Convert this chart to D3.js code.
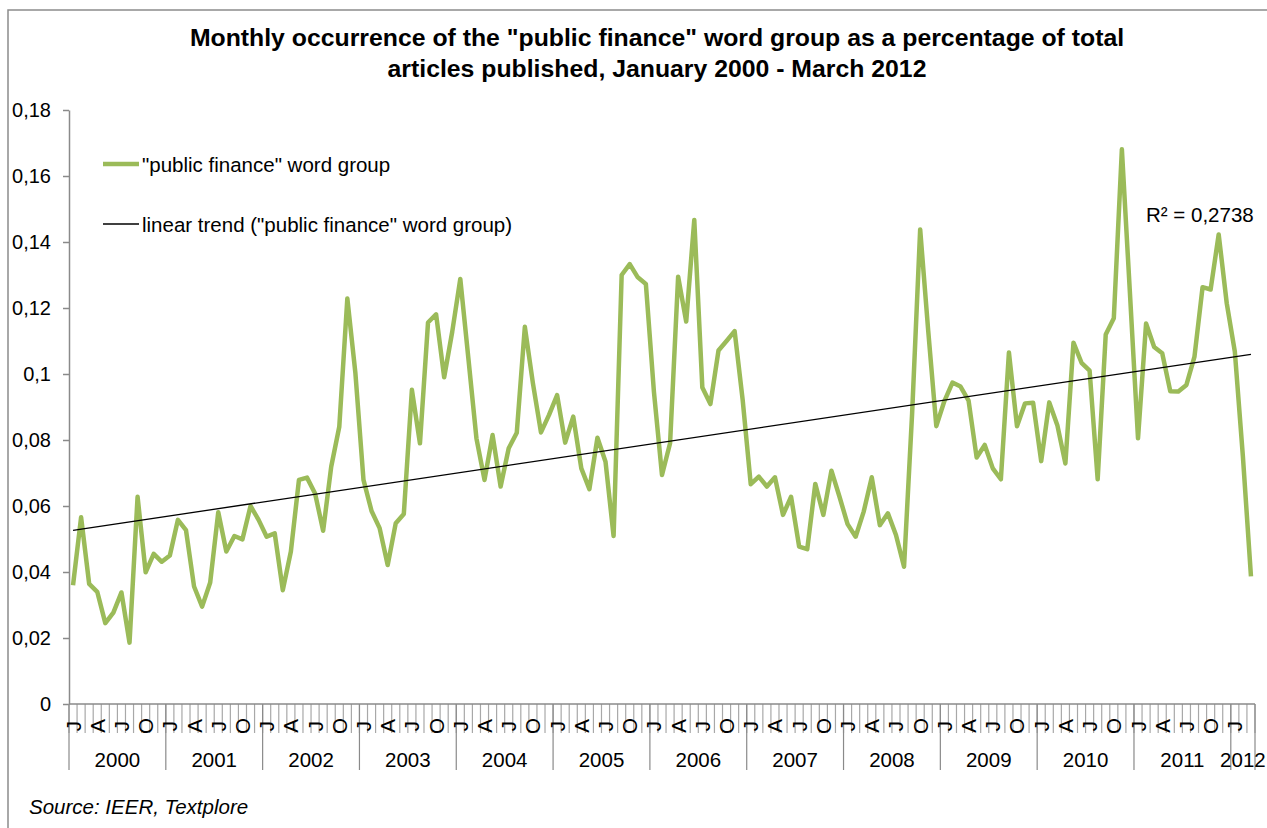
<!DOCTYPE html>
<html>
<head>
<meta charset="utf-8">
<script src="https://cdn.jsdelivr.net/npm/d3@7"></script>
<style>
  html, body { margin: 0; padding: 0; background: #fff; }
  svg { display: block; font-family: "Liberation Sans", Arial, sans-serif; }
</style>
</head>
<body>
<svg id="chart" width="1267" height="828"></svg>
<script>
// Monthly share of articles mentioning the "public finance" word group, Jan 2000 - Mar 2012
const years = ["2000", "2001", "2002", "2003", "2004", "2005", "2006", "2007", "2008", "2009", "2010", "2011", "2012"];
const monthLetters = ["J", "F", "M", "A", "M", "J", "J", "A", "S", "O", "N", "D"];
const share = [
  // 2000
  0.0360, 0.0566, 0.0364, 0.0340, 0.0245, 0.0277, 0.0338, 0.0186, 0.0628, 0.0399, 0.0455, 0.0431,
  // 2001
  0.0450, 0.0558, 0.0527, 0.0356, 0.0295, 0.0368, 0.0581, 0.0462, 0.0509, 0.0499, 0.0600, 0.0558,
  // 2002
  0.0507, 0.0517, 0.0345, 0.0462, 0.0679, 0.0686, 0.0638, 0.0525, 0.0719, 0.0840, 0.1229, 0.1002,
  // 2003
  0.0679, 0.0585, 0.0533, 0.0421, 0.0548, 0.0576, 0.0952, 0.0790, 0.1156, 0.1181, 0.0990, 0.1128,
  // 2004
  0.1288, 0.1048, 0.0805, 0.0679, 0.0815, 0.0659, 0.0775, 0.0822, 0.1143, 0.0972, 0.0823, 0.0876,
  // 2005
  0.0936, 0.0792, 0.0871, 0.0714, 0.0651, 0.0807, 0.0734, 0.0509, 0.1300, 0.1333, 0.1293, 0.1273,
  // 2006
  0.0946, 0.0694, 0.0790, 0.1295, 0.1159, 0.1467, 0.0959, 0.0909, 0.1071, 0.1100, 0.1130, 0.0921,
  // 2007
  0.0666, 0.0689, 0.0659, 0.0687, 0.0573, 0.0628, 0.0477, 0.0469, 0.0667, 0.0573, 0.0707, 0.0628,
  // 2008
  0.0545, 0.0507, 0.0583, 0.0687, 0.0542, 0.0578, 0.0512, 0.0416, 0.0880, 0.1438, 0.1130, 0.0842,
  // 2009
  0.0918, 0.0974, 0.0962, 0.0919, 0.0747, 0.0785, 0.0714, 0.0681, 0.1065, 0.0842, 0.0911, 0.0913,
  // 2010
  0.0736, 0.0914, 0.0845, 0.0729, 0.1095, 0.1034, 0.1010, 0.0681, 0.1120, 0.1169, 0.1681, 0.1244,
  // 2011
  0.0805, 0.1153, 0.1082, 0.1063, 0.0948, 0.0947, 0.0967, 0.1053, 0.1263, 0.1256, 0.1423, 0.1214,
  // 2012
  0.1068, 0.0750, 0.0387
];
const yTicks = [0, 0.02, 0.04, 0.06, 0.08, 0.10, 0.12, 0.14, 0.16, 0.18];
const yTickLabels = ["0", "0,02", "0,04", "0,06", "0,08", "0,1", "0,12", "0,14", "0,16", "0,18"];
const titleLines = [
  "Monthly occurrence of the \"public finance\" word group as a percentage of total",
  "articles published, January 2000 - March 2012"
];
const seriesName = "\"public finance\" word group";
const trendName = "linear trend (\"public finance\" word group)";
const rSquaredText = "R² = 0,2738";
const sourceText = "Source: IEER, Textplore";

const svg = d3.select("#chart");
const axisGrey = "#8a8a8a";
const green = "#9bbb59";
const fontSize = 20.5;

// frame around the chart
svg.append("rect")
  .attr("x", 8).attr("y", 10).attr("width", 1400).attr("height", 1000)
  .attr("fill", "none").attr("stroke", "#8c8c8c").attr("stroke-width", 1.5);

// scales
const idx = d3.range(share.length);
const x = d3.scaleBand().domain(idx).range([69, 1255]).padding(0);
const y = d3.scaleLinear().domain([0, 0.18]).range([704, 110]);
const cx = i => x(i) + x.bandwidth() / 2;

// title
svg.append("g").selectAll("text").data(titleLines).join("text")
  .attr("x", 657).attr("y", (d, i) => 46 + i * 31)
  .attr("text-anchor", "middle")
  .attr("font-weight", "bold").attr("font-size", 24.8)
  .attr("fill", "#000")
  .text(d => d);

// y axis
const yAxis = svg.append("g").attr("transform", "translate(69,0)")
  .call(d3.axisLeft(y).tickValues(yTicks).tickSize(6).tickSizeOuter(0)
    .tickFormat((d, i) => yTickLabels[i]).tickPadding(12));
yAxis.select(".domain").attr("stroke", axisGrey).attr("stroke-width", 1.5);
yAxis.selectAll(".tick line").attr("stroke", axisGrey).attr("stroke-width", 1.5);
yAxis.selectAll(".tick text").attr("font-size", 20).attr("fill", "#000")
  .attr("font-family", "Liberation Sans, Arial, sans-serif");

// x axis: month tick marks at every category boundary
const xAxisG = svg.append("g");
const boundaries = d3.range(share.length + 1);
const edge = i => (i < share.length ? x(i) : x(share.length - 1) + x.bandwidth());
xAxisG.selectAll("line.month").data(boundaries).join("line")
  .attr("class", "month")
  .attr("x1", edge).attr("x2", edge)
  .attr("y1", y(0)).attr("y2", 733)
  .attr("stroke", "#a8a8a8").attr("stroke-width", 1.2);

// year separators
const yearStarts = years.map((yr, k) => k * 12);
const yearEdges = yearStarts.concat([share.length]);
xAxisG.selectAll("line.year").data(yearEdges).join("line")
  .attr("class", "year")
  .attr("x1", edge).attr("x2", edge)
  .attr("y1", y(0)).attr("y2", 770)
  .attr("stroke", axisGrey).attr("stroke-width", 1.2);

// axis line
xAxisG.append("line")
  .attr("x1", 69).attr("x2", edge(share.length))
  .attr("y1", y(0)).attr("y2", y(0))
  .attr("stroke", axisGrey).attr("stroke-width", 1.5);

// quarter month letters (J, A, J, O), rotated
const letterIdx = idx.filter(i => i % 3 === 0);
xAxisG.selectAll("text.m").data(letterIdx).join("text")
  .attr("class", "m")
  .attr("transform", i => `translate(${cx(i)},726) rotate(-90)`)
  .attr("text-anchor", "middle").attr("dominant-baseline", "central")
  .attr("font-size", fontSize).attr("fill", "#000")
  .text(i => monthLetters[i % 12]);

// year labels, centred on their months
xAxisG.selectAll("text.yr").data(years).join("text")
  .attr("class", "yr")
  .attr("x", (yr, k) => {
    const a = edge(k * 12);
    const b = edge(Math.min((k + 1) * 12, share.length));
    return (a + b) / 2;
  })
  .attr("y", 767)
  .attr("text-anchor", "middle")
  .attr("font-size", fontSize).attr("fill", "#000")
  .text(d => d);

// least-squares trend over the monthly series
const n = share.length;
const mx = d3.mean(idx), my = d3.mean(share);
const slope = d3.sum(idx, i => (i - mx) * (share[i] - my)) / d3.sum(idx, i => (i - mx) ** 2);
const intercept = my - slope * mx;
const trend = [0, n - 1].map(i => ({ i, v: intercept + slope * i }));

// data line
const line = d3.line().x((d, i) => cx(i)).y(d => y(d));
svg.append("path")
  .datum(share)
  .attr("d", line)
  .attr("fill", "none").attr("stroke", green)
  .attr("stroke-width", 4.5).attr("stroke-linejoin", "round");

// trend line
svg.append("path")
  .datum(trend)
  .attr("d", d3.line().x(d => cx(d.i)).y(d => y(d.v)))
  .attr("fill", "none").attr("stroke", "#000").attr("stroke-width", 1.3);

// R² label
svg.append("text")
  .attr("x", 1146).attr("y", 222)
  .attr("font-size", 20.5).attr("fill", "#000")
  .text(rSquaredText);

// legend
const legend = svg.append("g");
const legendItems = [
  { name: seriesName, color: green, width: 4.5, yy: 164 },
  { name: trendName, color: "#000", width: 1.3, yy: 224 }
];
legend.selectAll("line").data(legendItems).join("line")
  .attr("x1", 103).attr("x2", 139)
  .attr("y1", d => d.yy).attr("y2", d => d.yy)
  .attr("stroke", d => d.color).attr("stroke-width", d => d.width);
legend.selectAll("text").data(legendItems).join("text")
  .attr("x", 142).attr("y", d => d.yy)
  .attr("dominant-baseline", "central")
  .attr("font-size", fontSize).attr("fill", "#000")
  .text(d => d.name);

// source note
svg.append("text")
  .attr("x", 29).attr("y", 814)
  .attr("font-size", fontSize).attr("font-style", "italic").attr("fill", "#000")
  .text(sourceText);
</script>
</body>
</html>
